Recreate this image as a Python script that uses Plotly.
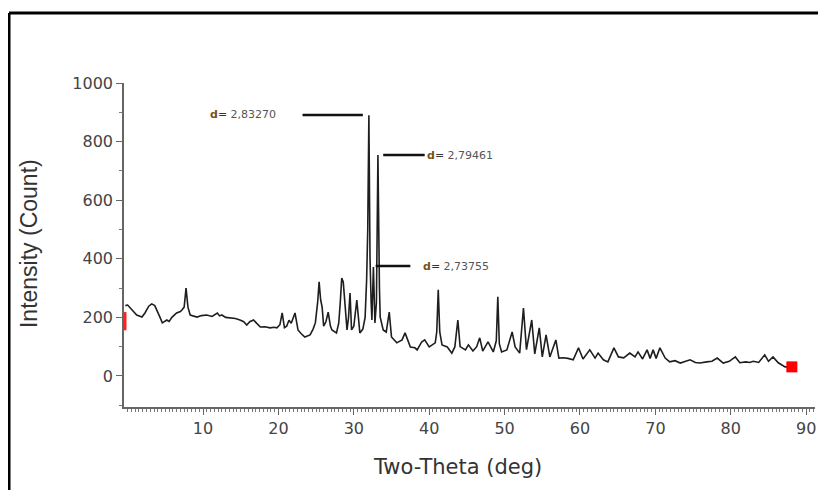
import plotly.graph_objects as go

# XRD pattern
two_theta = [-0.3, 0.0, 0.6, 1.2, 1.9, 2.3, 2.8, 3.2, 3.6, 3.9, 4.3, 4.6, 5.2, 5.5, 5.9, 6.5, 7.0, 7.2, 7.5, 7.75,
             8.0, 8.3, 8.8, 9.2, 9.8, 10.5, 11.2, 11.9, 12.2, 12.5, 13.0, 13.6, 14.3, 14.9, 15.4, 15.8, 16.2, 16.7,
             17.2, 17.6, 18.2, 18.9, 19.4, 19.8, 20.2, 20.5, 20.8, 21.1, 21.4, 21.7, 22.2, 22.6, 23.0, 23.5, 24.2,
             24.6, 24.9, 25.2, 25.4, 25.6, 25.8, 26.0, 26.3, 26.6, 26.9, 27.1, 27.7, 28.0, 28.2, 28.4, 28.6, 28.8,
             29.0, 29.1, 29.3, 29.5, 29.7, 30.0, 30.4, 30.6, 30.8, 31.2, 31.5, 31.7, 31.85, 32.0, 32.15, 32.3, 32.4,
             32.6, 32.8, 33.0, 33.2, 33.4, 33.5, 33.9, 34.3, 34.7, 35.0, 35.7, 36.4, 36.8, 37.5, 38.1, 38.4, 39.0,
             39.4, 40.0, 40.8, 41.0, 41.2, 41.4, 41.7, 42.4, 43.0, 43.4, 43.8, 44.1, 44.8, 45.2, 45.8, 46.3, 46.7,
             47.1, 47.8, 48.5, 48.9, 49.1, 49.3, 49.6, 50.3, 51.0, 51.4, 52.0, 52.5, 52.9, 53.6, 54.0, 54.6, 55.0,
             55.5, 56.0, 56.8, 57.2, 57.8, 58.4, 59.1, 59.8, 60.4, 61.3, 62.0, 62.4, 63.1, 63.7, 64.5, 65.1, 65.8,
             66.6, 67.3, 67.7, 68.3, 68.9, 69.3, 69.7, 70.1, 70.6, 71.3, 71.9, 72.6, 73.3, 74.0, 74.6, 75.3, 75.9,
             76.8, 77.5, 78.2, 79.0, 79.8, 80.6, 81.2, 82.0, 82.5, 83.0, 83.7, 84.5, 85.0, 85.6, 86.3, 87.2, 88.1]
intensity = [240, 242, 225, 208, 201, 215, 238, 246, 240, 225, 200, 181, 191, 186, 201, 215, 220, 225, 235, 300,
             235, 208, 205, 201, 206, 208, 203, 215, 205, 208, 200, 198, 196, 191, 185, 174, 185, 191,
             178, 167, 168, 164, 166, 164, 175, 215, 165, 170, 190, 180, 215, 157, 145, 133, 140,
             160, 181, 250, 321, 260, 235, 170, 185, 218, 170, 157, 147, 180, 249, 334, 321, 259,
             180, 157, 200, 283, 157, 170, 259, 190, 147, 160, 200, 328, 500, 890, 400, 250, 191,
             372, 181, 250, 754, 300, 201, 157, 150, 218, 133, 113, 123, 147, 99, 96, 89, 116,
             123, 99, 113, 150, 294, 150, 106, 99, 78, 99, 191, 100, 89, 106, 85, 100, 130,
             85, 116, 82, 120, 270, 110, 82, 89, 150, 99, 78, 232, 90, 191, 75, 164, 65,
             140, 65, 123, 61, 62, 60, 55, 96, 58, 89, 61, 78, 55, 48, 96, 65, 62,
             78, 65, 82, 58, 89, 60, 89, 60, 96, 61, 48, 52, 44, 50, 55, 46, 44,
             48, 50, 61, 44, 50, 65, 45, 48, 46, 50, 46, 72, 50, 65, 45, 31, 31]

# red range markers
end_marker_x = [88.1]
end_marker_y = [31]
start_marker_x = [-0.35]
start_marker_y = [187]

# d-spacing labels
label_texts = ["2,83270", "2,79461", "2,73755"]
label_x = [20.0, 39.4, 38.9]
label_y = [891, 754, 375]
label_anchor = ["right", "left", "left"]
leader_x0 = [23.2, 33.9, 32.9]
leader_x1 = [31.2, 39.4, 37.5]

y_ticks = [0, 200, 400, 600, 800, 1000]
x_ticks = [10, 20, 30, 40, 50, 60, 70, 80, 90]

fig = go.Figure()
fig.add_trace(go.Scatter(x=two_theta, y=intensity, mode="lines",
                         line=dict(color="#1e1e1e", width=1.6), showlegend=False))
fig.add_trace(go.Scatter(x=end_marker_x, y=end_marker_y, mode="markers",
                         marker=dict(symbol="square", size=11, color="#ff0000"), showlegend=False))
fig.add_trace(go.Scatter(x=start_marker_x, y=start_marker_y, mode="markers",
                         marker=dict(symbol="line-ns", size=13, line=dict(color="#ff2020", width=3)),
                         showlegend=False))

shapes = []
for x0, x1, y in zip(leader_x0, leader_x1, label_y):
    shapes.append(dict(type="line", xref="x", yref="y", x0=x0, x1=x1, y0=y, y1=y,
                       line=dict(color="#111", width=2.5)))

# outer frame of the picture
frame = dict(color="#000", width=3)
shapes.append(dict(type="line", xref="paper", yref="paper", x0=-0.1664, x1=-0.1664, y0=-0.4, y1=1.216, line=frame))
shapes.append(dict(type="line", xref="paper", yref="paper", x0=-0.1664, x1=1.0116, y0=1.216, y1=1.216, line=frame))
shapes.append(dict(type="line", xref="paper", yref="paper", x0=1.0116, x1=1.0116, y0=-0.4, y1=1.216, line=frame))

annotations = []
for t, x, y, a in zip(label_texts, label_x, label_y, label_anchor):
    annotations.append(dict(
        x=x, y=y, xref="x", yref="y", showarrow=False, xanchor=a, yanchor="middle",
        text="<b><span style='color:#7a5214'>d</span></b><span style='color:#333'>=</span> " + t,
        font=dict(family="DejaVu Sans", size=11, color="#555")))

annotations.append(dict(x=0.482, y=-0.185, xref="paper", yref="paper", showarrow=False,
                        text="Two-Theta (deg)", xanchor="center", yanchor="middle",
                        font=dict(family="DejaVu Sans", size=21, color="#333")))
annotations.append(dict(x=-0.1375, y=0.506, xref="paper", yref="paper", showarrow=False,
                        text="Intensity (Count)", textangle=-90, xanchor="center", yanchor="middle",
                        font=dict(family="Liberation Sans", size=23, color="#333")))

# the page body adds an 8px offset, so the figure is 8px smaller and its margins shifted
fig.update_layout(
    width=818, height=482,
    margin=dict(l=116, r=11, t=75, b=83),
    paper_bgcolor="white", plot_bgcolor="white",
    shapes=shapes, annotations=annotations,
    xaxis=dict(range=[-0.48, 91.17], tickmode="array", tickvals=x_ticks,
               showgrid=False, zeroline=False, showline=True, linecolor="#666", linewidth=1.5,
               ticks="outside", ticklen=6, tickwidth=1.2, tickcolor="#666",
               minor=dict(dtick=0.5, tick0=0, ticks="outside", ticklen=3, tickcolor="#777", tickwidth=1),
               tickfont=dict(family="DejaVu Sans", size=16, color="#444")),
    yaxis=dict(range=[-106, 1000], tickmode="array", tickvals=y_ticks,
               showgrid=False, zeroline=False, showline=True, linecolor="#666", linewidth=1.5,
               ticks="outside", ticklen=6, tickwidth=1.2, tickcolor="#666",
               minor=dict(dtick=100, tick0=0, ticks="outside", ticklen=3, tickcolor="#777", tickwidth=1),
               tickfont=dict(family="DejaVu Sans", size=16, color="#444")),
)

fig.write_html("out.html")
